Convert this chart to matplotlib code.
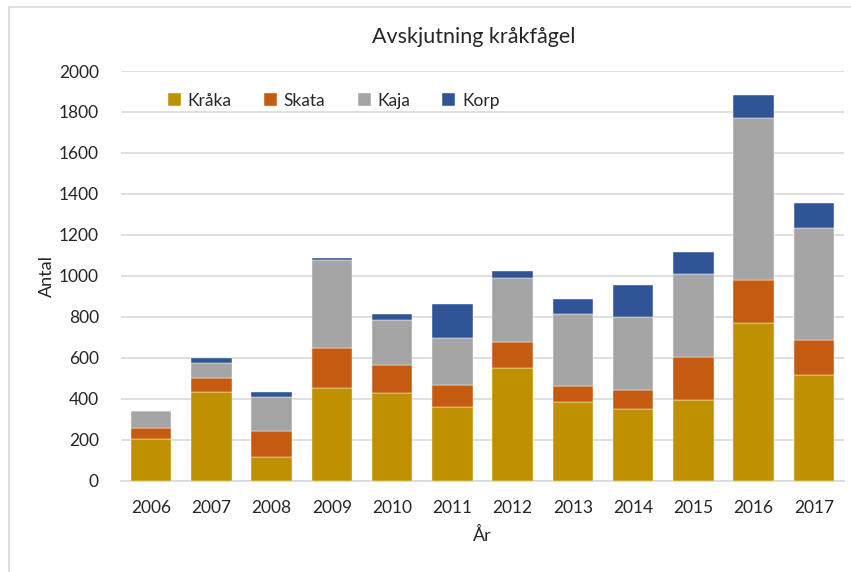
import matplotlib
matplotlib.use("Agg")
import matplotlib.pyplot as plt
from matplotlib.lines import Line2D
import numpy as np

years = ["2006", "2007", "2008", "2009", "2010", "2011", "2012", "2013", "2014", "2015", "2016", "2017"]
kraka = [203, 434, 114, 454, 427, 360, 548, 383, 352, 396, 772, 515]
skata = [56, 67, 127, 192, 139, 105, 128, 80, 93, 210, 207, 174]
kaja = [79, 75, 169, 433, 218, 233, 315, 349, 352, 401, 792, 547]
korp = [0, 21, 23, 8, 28, 166, 34, 73, 159, 109, 112, 118]
series_names = ["Kråka", "Skata", "Kaja", "Korp"]
colors = ["#BF9000", "#C55A11", "#A5A5A5", "#2F5597"]
yticks = [0, 200, 400, 600, 800, 1000, 1200, 1400, 1600, 1800, 2000]

plt.rcParams['font.family'] = ['Lato', 'DejaVu Sans']

fig = plt.figure(figsize=(8.51, 5.72), dpi=100)
ax = fig.add_axes([121/851, 1-480.7/572, (844-121)/851, (480.7-71)/572])

x = np.arange(len(years))
bottom = np.zeros(len(years))
for name, vals, c in zip(series_names, [kraka, skata, kaja, korp], colors):
    v = np.array(vals, dtype=float)
    ax.bar(x, v, bottom=bottom, width=0.675, color=c, label=name, zorder=3,
           edgecolor='white', linewidth=0.3)
    bottom += v

ax.set_xlim(-0.5, len(years) - 0.5)
ax.set_ylim(0, 2000)
ax.set_yticks(yticks)
ax.set_xticks(x)
ax.set_xticklabels(years)
ax.tick_params(axis='both', length=0, labelsize=12.5, colors='#262626')
ax.tick_params(axis='y', pad=16)
ax.tick_params(axis='x', pad=14)
ax.grid(axis='y', color='#D9D9D9', linewidth=1.2, zorder=0)
for s in ['top', 'right', 'left']:
    ax.spines[s].set_visible(False)
ax.spines['bottom'].set_color('#D9D9D9')
ax.spines['bottom'].set_linewidth(1.2)

ax.set_ylabel("Antal", fontsize=13, color='#262626', labelpad=3)
ax.set_xlabel("År", fontsize=13, color='#262626', labelpad=8)
fig.text(0.5 * (121 + 844) / 851 - 0.01, 1 - 37/572, "Avskjutning kråkfågel", ha='center', va='center',
         fontsize=15.5, color='#262626')

leg = ax.legend(loc='upper left', bbox_to_anchor=(0.043, 0.985), ncol=4, frameon=False,
                fontsize=12.5, handlelength=0.75, handleheight=0.75, columnspacing=1.85,
                handletextpad=0.4)
for t in leg.get_texts():
    t.set_color('#262626')

# chart frame (top and left)
fig.add_artist(Line2D([9/851, 1], [1-7/572, 1-7/572], color='#D9D9D9', linewidth=1.2))
fig.add_artist(Line2D([9/851, 9/851], [0, 1-7/572], color='#D9D9D9', linewidth=1.2))

fig.savefig("out.png", dpi=100, facecolor='white')
